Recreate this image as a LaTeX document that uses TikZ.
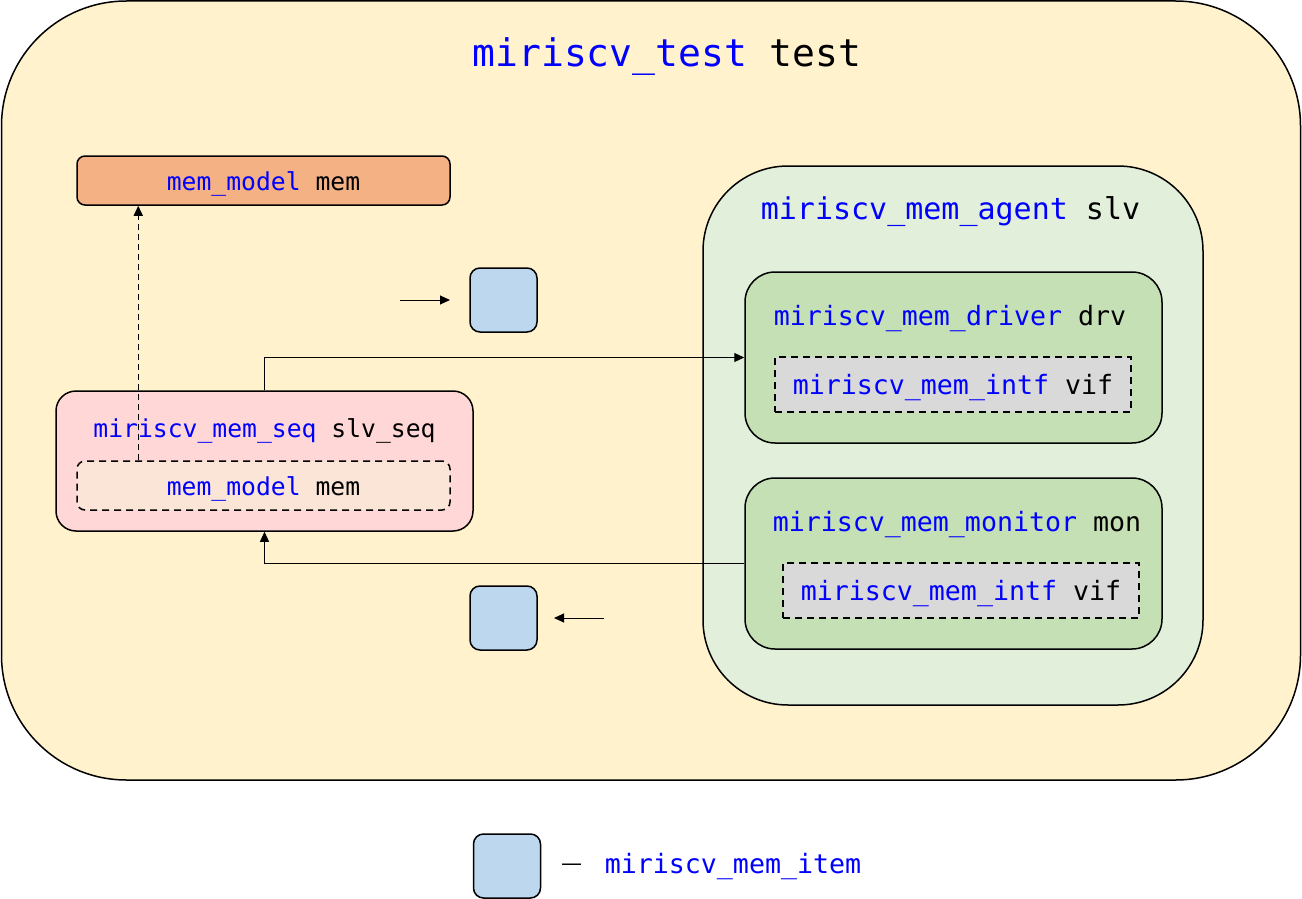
\documentclass[tikz,border=0pt]{standalone}
\usepackage{fontspec}
\setmonofont{DejaVu Sans Mono}
\newfontfamily\dashfont{DejaVu Sans}
\usetikzlibrary{arrows.meta}
\definecolor{outerfill}{HTML}{FFF2CC}
\definecolor{orangefill}{HTML}{F4B183}
\definecolor{itemfill}{HTML}{BDD7EE}
\definecolor{seqfill}{HTML}{FFD7D7}
\definecolor{seqmemfill}{HTML}{FBE5D6}
\definecolor{agentfill}{HTML}{E2EFDA}
\definecolor{drvfill}{HTML}{C5E0B4}
\definecolor{intffill}{HTML}{D9D9D9}
\definecolor{bluetxt}{HTML}{0000FF}
\newcommand{\bt}[1]{\textcolor{bluetxt}{#1}}
\tikzset{
  box/.style={draw=black, line width=1.5pt, rectangle, inner sep=0pt},
  dashbox/.style={box, dash pattern=on 7pt off 5pt},
  itembox/.style={box, fill=itemfill, rounded corners=10pt, minimum width=67pt, minimum height=64pt},
  lbl/.style={inner sep=0pt, font=\ttfamily, anchor=center, yshift=-3pt},
  fA/.style={font=\ttfamily\fontsize{24.7}{28}\selectfont},
  fB/.style={font=\ttfamily\fontsize{26.6}{30}\selectfont},
  conn/.style={draw=black, line width=1pt, -{Triangle[length=10pt,width=9pt]}},
}
\begin{document}
\begin{tikzpicture}[x=1pt,y=-1pt]
\useasboundingbox (0,0) rectangle (1302,899);
% outer
\node[box, fill=outerfill, rounded corners=125pt, minimum width=1299pt, minimum height=779pt] (outer) at (651,390.5) {};
\node[lbl, font=\ttfamily\fontsize{38}{40}\selectfont, yshift=-1pt] (title) at (667,53) {\bt{miriscv\_test} test};
% mem_model top
\node[box, fill=orangefill, rounded corners=8pt, minimum width=373pt, minimum height=49pt] (memtop) at (263.5,180.5) {};
\node[lbl, fA] (memtoptxt) at (memtop.center) {\bt{mem\_model} mem};
% items
\node[itembox] (item1) at (503.5,300) {};
\node[itembox] (item2) at (503.5,618) {};
% seq
\node[box, fill=seqfill, rounded corners=20pt, minimum width=417pt, minimum height=140pt] (seq) at (264.5,461) {};
\node[lbl, fA] (seqtitle) at (264.5,428) {\bt{miriscv\_mem\_seq} slv\_seq};
\node[dashbox, fill=seqmemfill, rounded corners=8pt, minimum width=373pt, minimum height=49pt] (seqmem) at (263.5,485.5) {};
\node[lbl, fA] (seqmemtxt) at (seqmem.center) {\bt{mem\_model} mem};
% agent
\node[box, fill=agentfill, rounded corners=85pt, minimum width=500pt, minimum height=539pt] (agent) at (953,435.5) {};
\node[lbl, font=\ttfamily\fontsize{30}{34}\selectfont] (agenttitle) at (950.5,209) {\bt{miriscv\_mem\_agent} slv};
% driver
\node[box, fill=drvfill, rounded corners=30pt, minimum width=417pt, minimum height=171pt] (drv) at (953.5,357.5) {};
\node[lbl, fB] (drvtitle) at (950,316) {\bt{miriscv\_mem\_driver} drv};
\node[dashbox, fill=intffill, minimum width=356pt, minimum height=55pt] (drvif) at (953,384.5) {};
\node[lbl, fB] (drviftxt) at (drvif.center) {\bt{miriscv\_mem\_intf} vif};
% monitor
\node[box, fill=drvfill, rounded corners=30pt, minimum width=417pt, minimum height=171pt] (mon) at (953.5,563.5) {};
\node[lbl, fB] (montitle) at (957,522) {\bt{miriscv\_mem\_monitor} mon};
\node[dashbox, fill=intffill, minimum width=356pt, minimum height=55pt] (monif) at (961,590.5) {};
\node[lbl, fB] (moniftxt) at (monif.center) {\bt{miriscv\_mem\_intf} vif};
% legend
\node[itembox] (legitem) at (507,866) {};
\node[inner sep=0pt, anchor=base, font=\dashfont\fontsize{21}{24}\selectfont] (legdash) at (571.5,870.5) {—};
\node[lbl, fB] (legtext) at (733,864) {\bt{miriscv\_mem\_item}};
% free-end arrows
\coordinate (a1s) at (400,300);
\coordinate (a1e) at (450,300);
\coordinate (a2s) at (604,618);
\coordinate (a2e) at (554,618);
\draw[conn] (a1s) -- (a1e);
\draw[conn] (a2s) -- (a2e);
% connectors
\draw[conn, dash pattern=on 6pt off 4pt, line width=1.5pt] ([xshift=62pt]seqmem.north west) -- ([xshift=62pt]memtop.south west);
\draw[conn] (seq.north) |- (drv.west);
\draw[conn] (mon.west) -| (seq.south);
\end{tikzpicture}
\end{document}
